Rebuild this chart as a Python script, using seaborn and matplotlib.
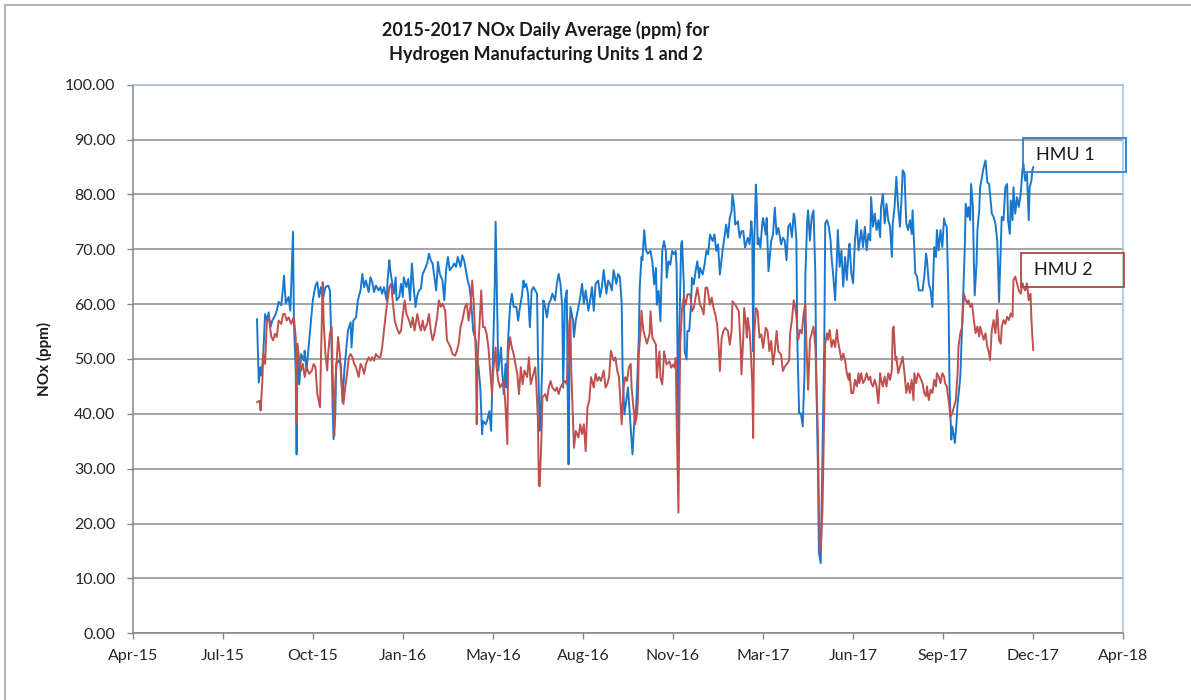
import numpy as np
import pandas as pd
import seaborn as sns
import matplotlib.pyplot as plt
import matplotlib.dates as mdates
from matplotlib.patches import Rectangle
from matplotlib.lines import Line2D

# Daily averages: (Excel date serial, NOx ppm)
hmu1 = [
    (42238, 57.3), (42240, 45.7), (42242, 48.5), (42243, 47.0), (42245, 50.9), (42247, 58.2),
    (42249, 57.0), (42251, 58.5), (42253, 55.8), (42255, 57.0), (42258, 57.9), (42260, 58.8),
    (42262, 60.4), (42265, 59.8), (42267, 63.1), (42268, 65.2), (42270, 60.1), (42273, 61.3),
    (42275, 58.8), (42276, 63.1), (42278, 73.2), (42279, 57.0), (42281, 47.9), (42282, 32.6),
    (42283, 50.9), (42285, 45.4), (42287, 50.9), (42290, 49.7), (42291, 51.5), (42293, 47.9),
    (42295, 51.5), (42297, 55.2), (42300, 60.7), (42303, 63.4), (42305, 64.0), (42307, 61.3),
    (42309, 63.1), (42311, 60.7), (42314, 63.1), (42317, 63.4), (42319, 62.5), (42321, 50.9),
    (42322, 41.2), (42323, 35.4), (42325, 39.9), (42326, 49.1), (42329, 49.7), (42331, 49.1),
    (42333, 42.1), (42335, 47.9), (42337, 51.5), (42339, 55.2), (42342, 56.7), (42343, 52.1),
    (42345, 57.0), (42348, 57.6), (42350, 60.7), (42353, 62.5), (42355, 65.5), (42357, 63.1),
    (42359, 64.3), (42362, 62.2), (42364, 64.9), (42366, 64.0), (42368, 62.2), (42370, 63.4),
    (42373, 62.5), (42375, 63.1), (42377, 61.9), (42379, 63.1), (42382, 60.7), (42383, 64.3),
    (42385, 68.0), (42386, 66.2), (42388, 64.0), (42390, 61.9), (42392, 64.9), (42393, 60.7),
    (42396, 61.3), (42398, 63.7), (42400, 61.3), (42401, 64.9), (42404, 63.1), (42406, 64.6),
    (42408, 60.7), (42410, 67.4), (42412, 63.1), (42414, 59.5), (42416, 61.6), (42418, 62.5),
    (42420, 62.8), (42422, 65.5), (42424, 66.2), (42427, 67.4), (42429, 69.2), (42431, 68.0),
    (42433, 67.4), (42435, 64.9), (42437, 62.5), (42439, 67.7), (42441, 65.5), (42444, 64.3),
    (42446, 60.7), (42448, 66.2), (42450, 68.6), (42452, 66.2), (42455, 66.8), (42457, 67.4),
    (42459, 66.8), (42461, 68.6), (42464, 66.8), (42466, 68.9), (42468, 68.0), (42470, 66.2),
    (42472, 64.3), (42474, 63.1), (42476, 60.1), (42478, 55.2), (42481, 53.4), (42483, 49.7),
    (42484, 48.5), (42486, 44.8), (42488, 36.3), (42489, 38.7), (42492, 38.1), (42494, 39.0),
    (42496, 40.5), (42498, 36.9), (42500, 49.7), (42502, 63.1), (42503, 75.0), (42505, 57.0),
    (42506, 47.9), (42509, 52.1), (42510, 48.5), (42512, 43.6), (42514, 49.1), (42515, 44.8),
    (42517, 54.0), (42519, 59.5), (42521, 61.9), (42523, 59.5), (42526, 59.5), (42528, 57.0),
    (42530, 59.5), (42532, 61.3), (42534, 64.3), (42535, 63.1), (42537, 63.7), (42539, 61.9),
    (42541, 55.8), (42543, 62.5), (42545, 63.1), (42547, 62.5), (42549, 61.9), (42550, 50.9),
    (42552, 36.9), (42553, 38.7), (42555, 50.9), (42556, 60.7), (42558, 59.5), (42560, 57.6),
    (42562, 60.1), (42564, 60.7), (42566, 61.9), (42569, 60.7), (42571, 63.7), (42573, 65.5),
    (42575, 63.7), (42577, 59.5), (42578, 44.8), (42580, 60.7), (42582, 62.5), (42583, 44.8),
    (42584, 30.8), (42585, 47.9), (42586, 59.5), (42589, 57.0), (42590, 54.0), (42592, 57.0),
    (42595, 59.5), (42597, 61.3), (42599, 63.7), (42601, 60.1), (42603, 62.5), (42606, 58.8),
    (42608, 60.7), (42610, 63.1), (42612, 58.8), (42614, 63.7), (42617, 64.3), (42619, 61.3),
    (42621, 63.1), (42623, 66.2), (42626, 61.9), (42628, 64.3), (42630, 63.7), (42632, 62.5),
    (42634, 66.2), (42637, 63.7), (42639, 65.5), (42641, 64.9), (42643, 60.1), (42644, 47.9),
    (42646, 39.9), (42648, 42.4), (42650, 44.8), (42652, 39.9), (42654, 35.1), (42655, 32.6),
    (42657, 38.7), (42659, 41.2), (42660, 44.8), (42662, 54.0), (42663, 63.1), (42665, 68.6),
    (42666, 68.0), (42668, 73.5), (42670, 69.8), (42672, 69.2), (42675, 69.7), (42677, 67.8),
    (42679, 63.6), (42681, 66.6), (42682, 59.9), (42684, 62.4), (42686, 56.9), (42688, 69.7),
    (42690, 71.5), (42692, 69.7), (42693, 64.8), (42695, 67.8), (42697, 67.2), (42699, 69.7),
    (42701, 69.1), (42703, 69.7), (42704, 66.6), (42705, 50.0), (42706, 35.0), (42707, 55.0),
    (42709, 70.9), (42710, 71.5), (42712, 63.6), (42713, 51.4), (42715, 49.9), (42716, 55.1),
    (42718, 55.1), (42720, 59.9), (42721, 64.8), (42723, 63.6), (42725, 66.0), (42727, 67.8),
    (42729, 64.8), (42730, 66.6), (42733, 65.4), (42735, 67.2), (42737, 69.7), (42739, 69.1),
    (42741, 72.7), (42744, 71.5), (42746, 72.7), (42748, 69.7), (42750, 70.9), (42752, 65.4),
    (42755, 69.7), (42757, 72.1), (42759, 74.5), (42761, 72.1), (42763, 75.7), (42765, 77.0),
    (42766, 80.0), (42768, 77.6), (42769, 74.5), (42772, 75.1), (42774, 72.1), (42776, 73.3),
    (42778, 73.3), (42780, 70.3), (42783, 72.1), (42785, 70.9), (42787, 75.1), (42788, 72.7),
    (42789, 51.4), (42790, 69.7), (42792, 81.8), (42793, 78.2), (42794, 70.9), (42795, 72.1),
    (42797, 70.3), (42799, 74.5), (42800, 75.7), (42803, 72.7), (42804, 75.7), (42806, 66.0),
    (42809, 71.5), (42811, 72.7), (42813, 77.6), (42815, 72.7), (42817, 73.9), (42820, 70.9),
    (42822, 72.1), (42824, 71.6), (42826, 68.0), (42828, 74.1), (42830, 74.7), (42832, 72.2),
    (42834, 76.5), (42835, 75.9), (42837, 71.6), (42838, 53.5), (42840, 40.1), (42842, 40.1),
    (42844, 37.7), (42846, 47.4), (42847, 65.6), (42849, 75.3), (42850, 77.1), (42852, 71.6),
    (42854, 75.9), (42856, 77.1), (42858, 65.6), (42859, 47.4), (42861, 29.2), (42862, 14.7),
    (42864, 12.8), (42865, 23.2), (42866, 32.8), (42868, 53.5), (42869, 74.7), (42871, 75.3),
    (42873, 74.1), (42875, 71.6), (42876, 68.6), (42878, 65.0), (42880, 60.7), (42882, 68.6),
    (42883, 73.5), (42885, 66.8), (42887, 69.8), (42889, 63.2), (42891, 68.6), (42893, 64.4),
    (42895, 69.8), (42896, 71.0), (42898, 65.6), (42900, 63.8), (42902, 71.6), (42904, 75.3),
    (42906, 69.8), (42907, 71.0), (42909, 73.5), (42911, 70.4), (42913, 74.1), (42915, 69.8),
    (42917, 72.8), (42919, 71.6), (42920, 79.5), (42922, 74.1), (42924, 76.5), (42926, 73.5),
    (42928, 75.3), (42930, 72.2), (42931, 77.7), (42933, 80.1), (42935, 74.7), (42937, 78.3),
    (42939, 75.3), (42941, 74.1), (42943, 68.6), (42944, 74.7), (42946, 77.7), (42948, 83.2),
    (42950, 77.7), (42952, 74.1), (42954, 80.1), (42955, 84.4), (42957, 83.8), (42959, 74.7),
    (42961, 73.5), (42963, 75.3), (42965, 72.8), (42966, 77.1), (42968, 69.8), (42969, 65.6),
    (42971, 65.0), (42973, 62.5), (42977, 62.5), (42979, 65.0), (42981, 69.2), (42982, 68.0),
    (42984, 63.8), (42986, 62.5), (42988, 59.5), (42990, 70.4), (42992, 68.6), (42993, 73.5),
    (42995, 69.8), (42997, 73.5), (42999, 70.4), (43001, 75.6), (43002, 74.7), (43004, 74.1),
    (43006, 60.1), (43007, 45.0), (43009, 35.3), (43010, 37.7), (43012, 35.9), (43013, 34.7),
    (43015, 38.9), (43016, 41.9), (43018, 45.0), (43019, 46.8), (43021, 55.9), (43022, 60.7),
    (43024, 70.4), (43025, 78.3), (43027, 75.9), (43028, 77.7), (43030, 75.3), (43031, 81.9),
    (43033, 77.7), (43034, 68.0), (43035, 61.6), (43037, 67.4), (43038, 73.5), (43040, 77.1),
    (43041, 81.3), (43043, 83.2), (43045, 85.0), (43047, 86.2), (43049, 82.2), (43051, 81.9),
    (43052, 80.1), (43054, 76.5), (43056, 75.9), (43058, 74.7), (43060, 71.6), (43061, 66.8),
    (43062, 60.4), (43064, 70.4), (43065, 75.9), (43067, 75.3), (43068, 78.3), (43069, 81.3),
    (43071, 81.9), (43072, 75.3), (43074, 72.8), (43075, 78.9), (43077, 75.3), (43078, 81.3),
    (43080, 76.5), (43082, 79.5), (43084, 77.7), (43086, 80.1), (43088, 84.4), (43089, 85.6),
    (43091, 82.5), (43093, 83.8), (43095, 75.3), (43096, 81.3), (43098, 82.5), (43099, 84.4),
    (43100, 85.0),
]

hmu2 = [
    (42238, 42.1), (42241, 42.4), (42242, 40.6), (42244, 46.0), (42245, 50.9), (42247, 49.1),
    (42249, 57.0), (42251, 57.6), (42254, 54.0), (42256, 53.4), (42258, 54.6), (42260, 54.0),
    (42262, 57.0), (42265, 56.4), (42267, 58.2), (42269, 58.2), (42271, 57.0), (42273, 57.6),
    (42276, 56.4), (42278, 57.3), (42279, 57.6), (42281, 54.0), (42282, 38.2), (42283, 52.8),
    (42285, 49.7), (42287, 47.9), (42289, 49.1), (42291, 46.7), (42293, 48.5), (42296, 47.3),
    (42299, 47.9), (42301, 49.1), (42303, 48.5), (42305, 43.6), (42308, 41.2), (42309, 49.7),
    (42311, 64.0), (42312, 57.0), (42314, 50.9), (42316, 47.9), (42317, 50.9), (42319, 54.6),
    (42321, 55.8), (42322, 47.9), (42324, 36.0), (42325, 46.0), (42327, 50.9), (42328, 54.0),
    (42330, 50.9), (42332, 45.4), (42334, 41.8), (42336, 44.8), (42338, 47.3), (42340, 50.3),
    (42342, 50.9), (42344, 50.3), (42346, 49.1), (42348, 48.5), (42351, 46.7), (42353, 49.1),
    (42355, 48.5), (42357, 47.3), (42359, 49.1), (42362, 50.3), (42364, 49.7), (42366, 50.3),
    (42368, 49.7), (42370, 50.9), (42373, 50.3), (42375, 50.3), (42377, 52.1), (42379, 55.2),
    (42381, 58.2), (42383, 60.7), (42385, 63.1), (42387, 63.7), (42389, 60.1), (42391, 57.0),
    (42393, 55.8), (42396, 54.6), (42398, 55.2), (42400, 58.2), (42402, 60.7), (42404, 58.2),
    (42407, 57.0), (42409, 55.8), (42411, 57.6), (42413, 55.2), (42416, 58.2), (42418, 56.4),
    (42420, 55.2), (42422, 57.0), (42424, 55.2), (42427, 56.4), (42429, 58.2), (42431, 55.2),
    (42433, 53.4), (42435, 54.6), (42438, 57.6), (42440, 60.7), (42442, 59.5), (42444, 60.1),
    (42447, 58.8), (42449, 53.4), (42451, 52.8), (42453, 52.1), (42455, 50.9), (42458, 50.6),
    (42460, 51.5), (42462, 52.8), (42464, 55.8), (42466, 57.0), (42469, 59.5), (42471, 60.1),
    (42473, 57.0), (42475, 59.5), (42477, 64.3), (42479, 59.5), (42481, 50.9), (42482, 38.1),
    (42483, 49.7), (42485, 55.8), (42487, 62.5), (42489, 55.8), (42491, 55.8), (42493, 54.6),
    (42495, 52.1), (42497, 47.9), (42499, 43.6), (42500, 47.3), (42503, 52.1), (42504, 48.5),
    (42506, 46.0), (42508, 44.8), (42510, 45.4), (42512, 46.0), (42514, 41.2), (42516, 34.5),
    (42517, 50.9), (42519, 54.0), (42521, 52.1), (42523, 50.9), (42527, 47.3), (42529, 43.6),
    (42531, 48.5), (42533, 45.4), (42535, 47.9), (42538, 46.7), (42540, 50.3), (42542, 45.4),
    (42544, 46.7), (42547, 48.5), (42548, 46.0), (42550, 38.7), (42551, 27.0), (42552, 26.8),
    (42554, 36.3), (42555, 43.0), (42558, 43.6), (42560, 42.4), (42562, 44.8), (42564, 46.0),
    (42566, 44.8), (42569, 44.2), (42571, 44.8), (42573, 43.6), (42575, 44.8), (42577, 45.4),
    (42580, 46.0), (42582, 45.4), (42583, 49.7), (42585, 57.0), (42586, 57.6), (42587, 47.9),
    (42589, 38.7), (42590, 33.8), (42592, 36.9), (42595, 35.7), (42597, 38.1), (42599, 36.3),
    (42601, 38.1), (42603, 33.2), (42605, 41.2), (42607, 42.4), (42609, 46.7), (42612, 44.8),
    (42614, 47.3), (42616, 46.0), (42618, 46.7), (42620, 46.0), (42623, 47.9), (42625, 44.8),
    (42627, 45.4), (42629, 46.7), (42631, 51.5), (42634, 49.7), (42636, 50.3), (42638, 47.9),
    (42640, 46.7), (42643, 38.1), (42645, 44.8), (42647, 46.7), (42649, 46.0), (42651, 48.5),
    (42653, 49.1), (42654, 44.8), (42656, 41.2), (42658, 38.1), (42660, 39.9), (42661, 42.4),
    (42662, 50.9), (42664, 55.2), (42665, 58.8), (42667, 55.2), (42669, 54.0), (42671, 52.8),
    (42674, 54.6), (42675, 58.7), (42677, 53.9), (42679, 53.3), (42681, 52.6), (42682, 46.6),
    (42683, 48.4), (42685, 51.4), (42686, 46.6), (42688, 45.4), (42689, 47.8), (42690, 51.4),
    (42692, 49.6), (42693, 49.0), (42696, 49.6), (42698, 48.4), (42700, 49.0), (42702, 48.4),
    (42703, 50.2), (42704, 39.3), (42706, 22.0), (42707, 39.3), (42708, 52.6), (42710, 59.3),
    (42712, 61.2), (42714, 59.9), (42716, 61.8), (42719, 61.8), (42721, 58.7), (42723, 59.3),
    (42725, 61.2), (42727, 63.0), (42730, 59.9), (42732, 59.3), (42734, 58.1), (42736, 63.0),
    (42738, 63.0), (42741, 59.9), (42743, 61.2), (42745, 59.3), (42747, 58.1), (42749, 56.3),
    (42751, 51.4), (42752, 47.8), (42754, 53.9), (42756, 55.1), (42758, 55.7), (42761, 55.1),
    (42763, 52.6), (42765, 55.1), (42766, 60.5), (42769, 59.9), (42771, 59.3), (42773, 58.7),
    (42775, 52.6), (42776, 47.2), (42778, 53.9), (42779, 59.3), (42781, 56.3), (42782, 53.9),
    (42783, 57.5), (42785, 55.1), (42786, 52.6), (42788, 45.4), (42789, 35.6), (42790, 53.9),
    (42792, 59.3), (42794, 58.7), (42796, 53.9), (42798, 54.5), (42800, 52.0), (42803, 55.7),
    (42805, 55.1), (42807, 51.4), (42809, 53.3), (42811, 49.0), (42813, 51.4), (42815, 55.1),
    (42817, 51.4), (42820, 50.8), (42822, 47.8), (42824, 48.6), (42827, 49.2), (42829, 49.8),
    (42830, 54.7), (42832, 57.1), (42834, 60.7), (42835, 60.1), (42837, 57.7), (42839, 53.5),
    (42841, 55.3), (42843, 54.7), (42845, 58.3), (42847, 60.1), (42848, 53.5), (42850, 44.4),
    (42851, 48.6), (42852, 53.5), (42854, 54.7), (42856, 55.9), (42858, 52.2), (42859, 47.4),
    (42861, 35.3), (42862, 23.2), (42863, 15.4), (42864, 14.7), (42866, 22.6), (42867, 32.2),
    (42868, 41.3), (42869, 52.8), (42871, 54.7), (42872, 53.5), (42874, 55.3), (42876, 52.2),
    (42878, 53.5), (42880, 52.2), (42882, 55.3), (42883, 53.5), (42885, 51.6), (42887, 49.8),
    (42889, 51.0), (42891, 49.8), (42893, 47.4), (42895, 46.2), (42896, 47.4), (42898, 43.8),
    (42900, 43.8), (42902, 46.2), (42904, 45.0), (42906, 47.4), (42907, 45.6), (42909, 47.4),
    (42911, 45.6), (42913, 46.2), (42915, 47.4), (42917, 46.2), (42919, 46.8), (42920, 45.6),
    (42922, 45.0), (42924, 46.2), (42926, 45.0), (42928, 41.9), (42930, 47.4), (42931, 46.2),
    (42933, 45.0), (42935, 46.8), (42937, 45.0), (42939, 47.4), (42941, 46.2), (42943, 48.0),
    (42944, 55.3), (42945, 55.9), (42947, 49.8), (42948, 50.4), (42950, 47.4), (42952, 48.6),
    (42954, 49.8), (42955, 50.4), (42957, 47.4), (42959, 43.8), (42961, 45.6), (42963, 43.8),
    (42965, 46.2), (42967, 42.5), (42968, 47.4), (42970, 45.6), (42972, 47.4), (42974, 46.8),
    (42977, 45.6), (42979, 43.8), (42981, 43.2), (42982, 45.0), (42984, 42.5), (42986, 44.4),
    (42988, 43.8), (42990, 46.2), (42992, 45.0), (42993, 47.4), (42995, 46.8), (42997, 45.6),
    (42999, 47.4), (43001, 46.8), (43002, 45.6), (43004, 45.0), (43006, 42.5), (43008, 39.5),
    (43010, 40.1), (43012, 41.3), (43014, 42.5), (43016, 47.4), (43017, 52.2), (43019, 54.7),
    (43021, 55.9), (43023, 61.9), (43025, 60.7), (43027, 60.1), (43028, 60.7), (43030, 59.5),
    (43032, 60.1), (43034, 57.1), (43036, 54.7), (43038, 55.9), (43040, 54.1), (43041, 55.9),
    (43043, 54.7), (43045, 53.5), (43047, 54.7), (43049, 52.2), (43051, 51.0), (43052, 49.8),
    (43054, 55.3), (43056, 57.1), (43058, 54.7), (43060, 58.9), (43062, 53.5), (43064, 52.8),
    (43065, 55.9), (43067, 57.1), (43069, 56.4), (43071, 57.7), (43073, 57.1), (43075, 58.3),
    (43077, 57.7), (43078, 64.4), (43080, 65.0), (43082, 63.8), (43084, 62.5), (43086, 61.9),
    (43088, 63.8), (43089, 63.2), (43091, 62.5), (43093, 63.8), (43095, 60.7), (43097, 61.9),
    (43098, 57.1), (43099, 54.1), (43100, 51.6),
]

series_names = ['HMU 1', 'HMU 2']
series_colors = ['#1a78cc', '#c0504d']
title = '2015-2017 NOx Daily Average (ppm) for\nHydrogen Manufacturing Units 1 and 2'
y_ticks = [0, 10, 20, 30, 40, 50, 60, 70, 80, 90, 100]


def to_frame(pairs):
    df = pd.DataFrame(pairs, columns=['serial', 'ppm'])
    df['date'] = pd.to_datetime(df['serial'], unit='D', origin='1899-12-30')
    return df


sns.set_style('white')
plt.rcParams['font.family'] = ['Lato', 'DejaVu Sans']

fig = plt.figure(figsize=(11.91, 7.0), dpi=100)
ax = fig.add_axes([132.7 / 1191, 1 - 633.3 / 700, (1123.3 - 132.7) / 1191, (633.3 - 84.7) / 700])

for pairs, name, color in zip([hmu1, hmu2], series_names, series_colors):
    df = to_frame(pairs)
    sns.lineplot(data=df, x='date', y='ppm', ax=ax, color=color, linewidth=1.4,
                 estimator=None, sort=False, legend=False)

# axis styling, Excel look
x_ticks = pd.date_range('2015-04-06', periods=12, freq='100D')
ax.set_xlim(x_ticks[0], x_ticks[-1])
ax.set_ylim(0, 100)
ax.set_xticks(x_ticks)
ax.xaxis.set_major_formatter(mdates.DateFormatter('%b-%y'))
ax.set_yticks(y_ticks)
ax.set_yticklabels([f'{v:.2f}' for v in y_ticks])
ax.tick_params(axis='both', labelsize=11.5, colors='#262626', direction='out')
ax.tick_params(axis='x', length=4.5, width=1, color='#868686', pad=7, bottom=True)
ax.tick_params(axis='y', length=4.5, width=1, color='#868686', pad=8, left=True)
ax.grid(axis='y', color='#8c8c8c', linewidth=1.1)
ax.set_axisbelow(True)
for side in ['left', 'bottom']:
    ax.spines[side].set_color('#868686')
    ax.spines[side].set_linewidth(1.1)
for side in ['top', 'right']:
    ax.spines[side].set_color('#9dc3e6')
    ax.spines[side].set_linewidth(1.1)
ax.set_xlabel('')
ax.set_ylabel('NOx (ppm)', fontsize=11, fontweight='bold', color='#1a1a1a')
ax.yaxis.set_label_coords((52 - 132.7) / 990.6, 0.5)

fig.text(546 / 1191, 1 - 42 / 700, title, ha='center', va='center', fontsize=13,
         fontweight='bold', color='#1a1a1a', linespacing=1.45)

# series labels in boxes, as in the original
label_boxes = [(1023, 138, '#2a80d0', 1036, 155), (1021, 253, '#a84a48', 1034, 270)]
for name, (bx, by, bc, tx, ty) in zip(series_names, label_boxes):
    fig.add_artist(Rectangle((bx / 1191, 1 - (by + 34) / 700), 103 / 1191, 34 / 700,
                             transform=fig.transFigure, fill=False, edgecolor=bc, linewidth=1.3))
    fig.text(tx / 1191, 1 - ty / 700, name, ha='left', va='center', fontsize=13, color='#1a1a1a')

# chart area border
fig.add_artist(Line2D([5 / 1191, 5 / 1191], [0, 1 - 5 / 700], transform=fig.transFigure,
                      color='#a6a6a6', linewidth=1.2))
fig.add_artist(Line2D([5 / 1191, 1], [1 - 5 / 700, 1 - 5 / 700], transform=fig.transFigure,
                      color='#a6a6a6', linewidth=1.2))

fig.savefig('out.png', dpi=100)
